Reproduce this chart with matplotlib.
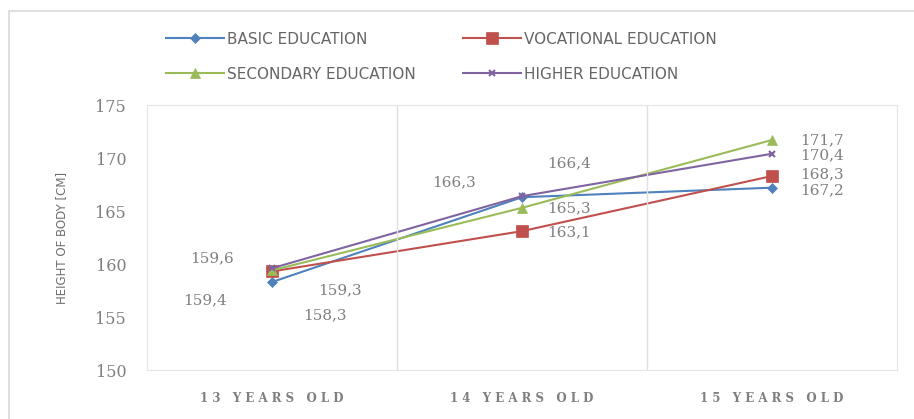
import matplotlib.pyplot as plt
from matplotlib import patches

# Data
ages = ['13 YEARS OLD', '14 YEARS OLD', '15 YEARS OLD']
basic = [158.3, 166.3, 167.2]
vocational = [159.3, 163.1, 168.3]
secondary = [159.4, 165.3, 171.7]
higher = [159.6, 166.4, 170.4]
names = ['BASIC EDUCATION', 'VOCATIONAL EDUCATION', 'SECONDARY EDUCATION', 'HIGHER EDUCATION']

# label offsets in pixels for each series / point
offs = {
    0: [(53, -33), (-68, 15), (50, -3)],
    1: [(68, -19), (47, -1), (50, 2)],
    2: [(-67, -30), (47, 0), (50, 0)],
    3: [(-60, 10), (47, 33), (50, -2)],
}

cols = ['#4F81BD', '#C0504D', '#9BBB59', '#8064A2']
mk = ['D', 's', '^', 'x']
ms = [5, 8, 7, 5]
txtc = '#7f7f7f'

fig = plt.figure(figsize=(9.14, 4.19), dpi=100)
ax = fig.add_axes([147/914, 49/419, 750/914, 265/419])

# outer chart border
fig.patches.append(patches.Rectangle((9/914, -0.05), 1.0, 1 - 11/419 + 0.05, transform=fig.transFigure,
                                     fill=False, edgecolor='#d9d9d9', lw=1.2))

x = range(len(ages))
series = [basic, vocational, secondary, higher]
lines = []
for i, s in enumerate(series):
    l, = ax.plot(x, s, color=cols[i], marker=mk[i], markersize=ms[i], lw=1.5,
                 markeredgewidth=1.5 if mk[i] == 'x' else 0.5, label=names[i])
    lines.append(l)
    for j, v in enumerate(s):
        ax.annotate(('%.1f' % v).replace('.', ','), (j, v), xytext=offs[i][j],
                    textcoords='offset pixels', ha='center', va='center',
                    fontsize=11, color=txtc, family='DejaVu Serif')

ax.set_xlim(-0.5, 2.5)
ax.set_ylim(150, 175)
ax.set_yticks(range(150, 176, 5))
ax.set_xticks(list(x))
ax.set_xticklabels([' '.join(a) for a in ages], fontsize=8.5, color=txtc, family='DejaVu Serif',
                   fontweight='bold')
ax.tick_params(axis='y', labelsize=11.5, labelcolor=txtc, length=0, pad=15)
ax.tick_params(axis='x', length=0, pad=16)
for lab in ax.get_yticklabels():
    lab.set_family('DejaVu Serif')
ax.set_ylabel('HEIGHT OF BODY [CM]', fontsize=8.5, color='#6f6f6f', labelpad=20)

# vertical separators between categories
for xv in [0.5, 1.5]:
    ax.axvline(xv, color='#e0e0e0', lw=1)
for sp in ax.spines.values():
    sp.set_color('#e6e6e6')

# legend filled row by row
order = [0, 2, 1, 3]
leg = fig.legend([lines[k] for k in order], [names[k] for k in order], loc='upper left',
                 bbox_to_anchor=(152/914, 1 - 18/419), ncol=2,
                 frameon=False, fontsize=11, handlelength=3.8, columnspacing=3.1,
                 labelspacing=1.3, handletextpad=0.2)
for t in leg.get_texts():
    t.set_color('#666666')

fig.savefig('out.png', dpi=100)
